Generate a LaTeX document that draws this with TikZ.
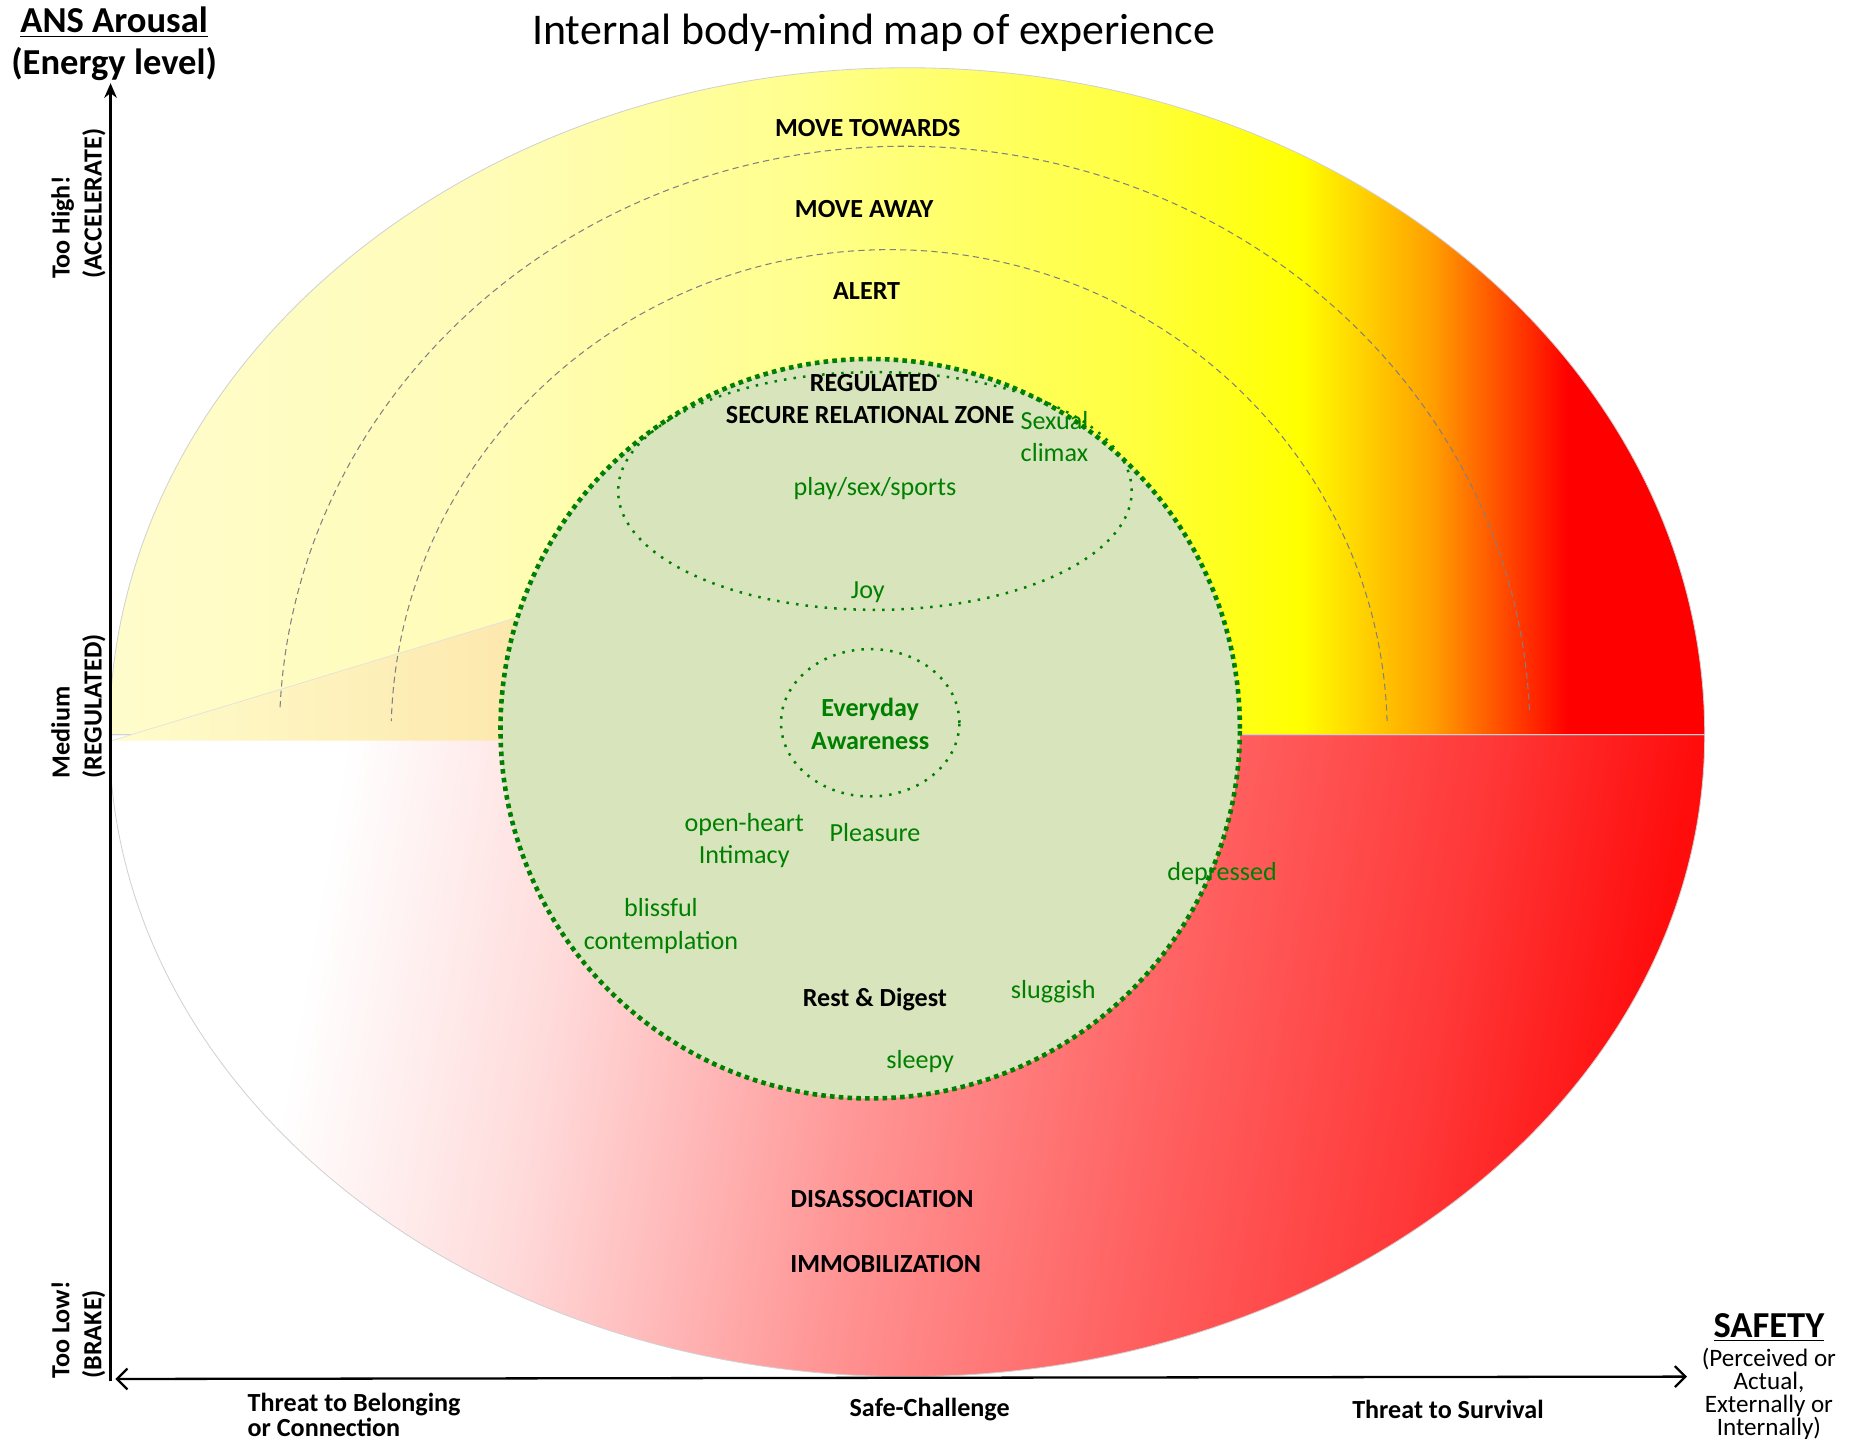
\documentclass[tikz,border=0pt]{standalone}
\usepackage{fontspec}
\setmainfont{Carlito}
\usetikzlibrary{arrows.meta}
\definecolor{leaf}{RGB}{0,128,0}
\definecolor{moss}{RGB}{216,228,188}
\pgfdeclarehorizontalshading{hotband}{100bp}{rgb(0bp)=(1,0.99,0.80); rgb(25bp)=(1,0.99,0.80);
  rgb(37bp)=(1,0.99,0.72); rgb(47bp)=(1,1,0.55); rgb(57bp)=(1,1,0.25); rgb(62.3bp)=(1,1,0);
  rgb(66.4bp)=(1,0.63,0); rgb(70.7bp)=(1,0,0); rgb(100bp)=(1,0,0)}
\pgfdeclarehorizontalshading{lowband}{100bp}{rgb(0bp)=(1,1,1); rgb(29bp)=(1,1,1);
  rgb(37.5bp)=(1,0.86,0.86); rgb(49bp)=(1,0.58,0.58); rgb(59bp)=(1,0.38,0.38);
  rgb(68bp)=(1,0.22,0.22); rgb(75bp)=(1,0.05,0.05); rgb(100bp)=(1,0,0)}
\begin{document}
\begin{tikzpicture}[
    x=0.2mm, y=0.2mm,
    zone/.style = {font=\bfseries\fontsize{12.5}{15.4}\selectfont, inner sep=0},
    feel/.style = {text=leaf, font=\fontsize{12.5}{15.4}\selectfont, align=center, inner sep=0},
    rim/.style = {draw=black!18, line width=0.4pt},
    guide/.style = {draw=gray, dash pattern=on 3pt off 2pt, line width=0.5pt},
    pocket/.style = {draw=leaf, line width=1.2pt, dash pattern=on 1.2pt off 3.4pt},
    level/.style = {rotate=90, anchor=west, align=left, inner sep=0,
                    font=\bfseries\fontsize{12.5}{15.4}\selectfont},
    threat/.style = {font=\bfseries\fontsize{12.5}{9.4}\selectfont, inner sep=0, align=left},
    heading/.style = {font=\bfseries\fontsize{17.5}{20}\selectfont, inner sep=0, align=center},
  ]
  \useasboundingbox (0,0) rectangle (1568,-1213);

  \coordinate (core) at (763,-618);
  \coordinate (outer) at (761,-618);
  \coordinate (inner) at (748,-618);
  \coordinate (hub) at (732,-613);

  \path[rim, shading=lowband, shading angle=-10] ([shift={(180:671 and 540)}]core)
    arc[start angle=180, end angle=360, x radius=671, y radius=540] -- cycle;
  \path[rim, shading=hotband] ([shift={(0:671 and 561)}]core)
    arc[start angle=0, end angle=180, x radius=671, y radius=561] -- cycle;
  \path[left color={rgb,1:red,1;green,0.99;blue,0.80}, right color={rgb,1:red,0.99;green,0.91;blue,0.68}]
    (94,-623) coordinate (wedge) -- (433,-520) coordinate (wedgetip) -- (433,-623) -- cycle;
  \draw[black!12, line width=0.3pt] (wedge) -- (wedgetip);

  \draw[guide] ([shift={(2.4:526 and 495)}]outer)
    arc[start angle=2.4, end angle=177.6, x radius=526, y radius=495];
  \draw[guide] ([shift={(1.6:419 and 408)}]inner)
    arc[start angle=1.6, end angle=178.4, x radius=419, y radius=408];

  \draw[draw=leaf, fill=moss, line width=2.2pt, dash pattern=on 2.2pt off 2pt] (hub) circle[radius=311];
  \draw[pocket] (736,-413) ellipse[x radius=216, y radius=100];
  \draw[pocket] (732,-608) ellipse[x radius=75, y radius=62];

  \node[font=\fontsize{21}{24}\selectfont, inner sep=0] (title) at (735,-28) {Internal body-mind map of experience};

  \node[zone] (towards) at (730,-108) {MOVE TOWARDS};
  \node[zone] (away) at (727,-176) {MOVE AWAY};
  \node[zone] (alert) at (729,-245) {ALERT};
  \node[zone] (regulated) at (735,-322) {REGULATED};
  \node[zone] (secure) at (732,-349) {SECURE RELATIONAL ZONE};
  \node[zone] (rest) at (736,-841) {Rest \& Digest};
  \node[zone] (disso) at (742,-1009) {DISASSOCIATION};
  \node[zone] (immob) at (745,-1063) {IMMOBILIZATION};

  \node[feel] (climax) at (887,-367) {Sexual\\climax};
  \node[feel] (play) at (736,-411) {play/sex/sports};
  \node[feel] (joy) at (730,-498) {Joy};
  \node[feel, font=\bfseries\fontsize{12.5}{15.4}\selectfont] (aware) at (732,-609) {Everyday\\Awareness};
  \node[feel] (intimacy) at (626,-707) {open-heart\\Intimacy};
  \node[feel] (pleasure) at (736,-700) {Pleasure};
  \node[feel] (depressed) at (1028,-735) {depressed};
  \node[feel] (blissful) at (556,-779) {blissful\\contemplation};
  \node[feel] (sluggish) at (886,-834) {sluggish};
  \node[feel] (sleepy) at (774,-893) {sleepy};

  \coordinate (origin) at (93,-1162);
  \coordinate (ytop) at (93,-70);
  \coordinate (xleft) at (97,-1160);
  \coordinate (xright) at (1419,-1158);
  \draw[line width=1.6pt, -{Stealth[length=7pt, width=6pt]}] (origin) -- (ytop);
  \draw[line width=1.1pt, {Straight Barb[length=5pt, width=10pt]}-{Straight Barb[length=5pt, width=10pt]}] (xleft) -- (xright);

  \node[heading] (arousal) at (96,-37) {\underline{ANS Arousal}\\(Energy level)};
  \node[level] (high) at (66,-235) {Too High!\\(ACCELERATE)};
  \node[level] (medium) at (66,-655) {Medium\\(REGULATED)};
  \node[level] (low) at (66,-1160) {Too Low!\\(BRAKE)};

  \node[threat, anchor=north west] (belonging) at (208,-1172) {Threat to Belonging\\or Connection};
  \node[threat] (challenge) at (782,-1186) {Safe-Challenge};
  \node[threat] (survival) at (1218,-1186) {Threat to Survival};
  \node[heading] (safety) at (1488,-1117) {\underline{SAFETY}};
  \node[font=\fontsize{12}{11}\selectfont, align=center, inner sep=0, anchor=north] (perceived) at (1488,-1134)
    {(Perceived or\\Actual,\\Externally or\\Internally)};
\end{tikzpicture}
\end{document}
